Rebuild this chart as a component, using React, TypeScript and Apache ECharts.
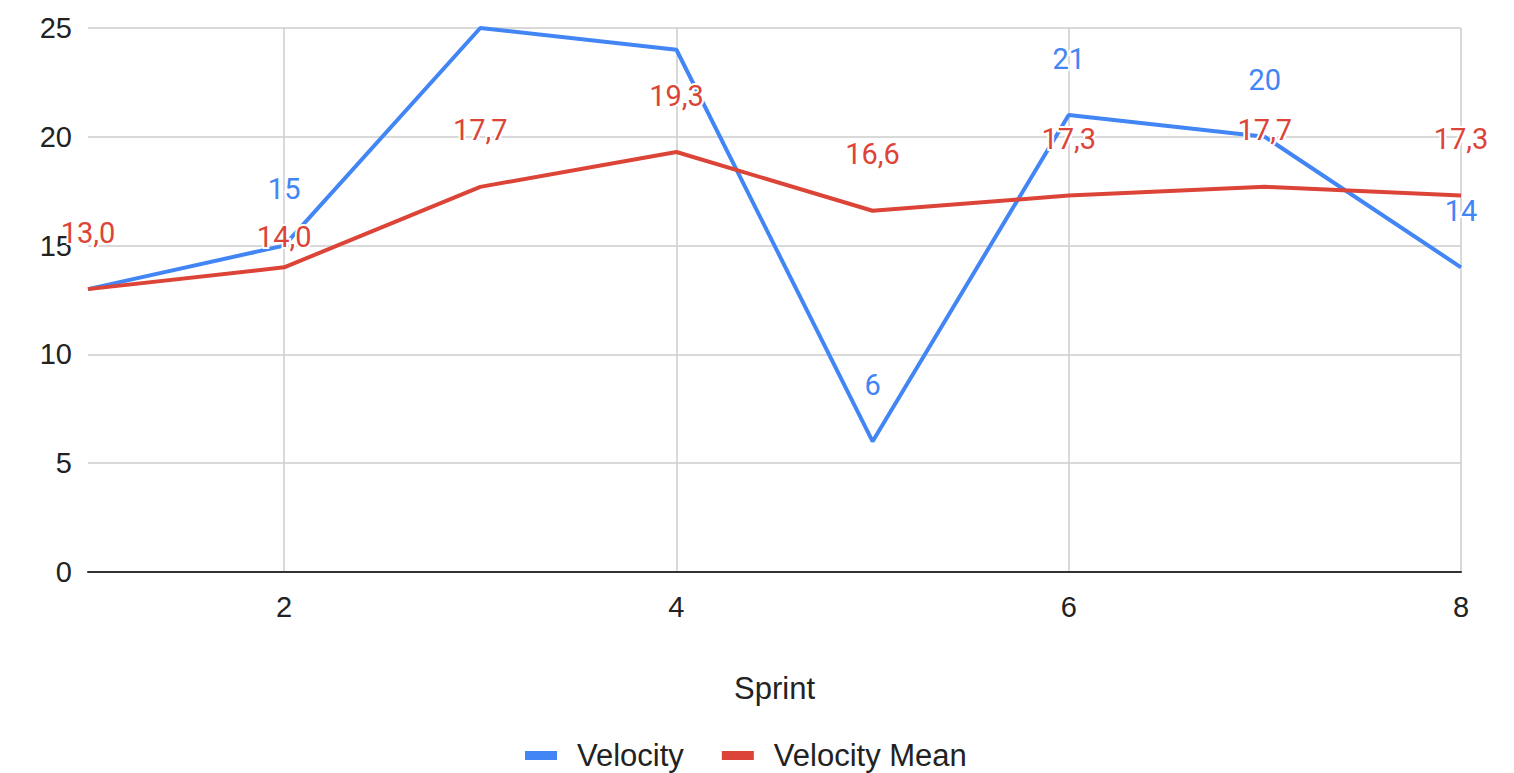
import React, { useEffect, useRef } from "react";
import * as echarts from "echarts";

const sprints = ["1", "2", "3", "4", "5", "6", "7", "8"];
const velocity = [13, 15, 25, 24, 6, 21, 20, 14];
const velocityMean = [13.0, 14.0, 17.7, 19.3, 16.6, 17.3, 17.7, 17.3];
const hiddenVelocityLabels = [0, 2, 3];
const yTicks = { min: 0, max: 25, interval: 5 };

const BLUE = "#4285F4";
const RED = "#DB4437";
const FONT = "Arial, Liberation Sans";

export default function App() {
  const ref = useRef<HTMLDivElement>(null);
  useEffect(() => {
    document.body.style.margin = "0";
    const chart = echarts.init(ref.current!, null, { renderer: "svg" });
    const labelBase = {
      show: true,
      position: "top",
      distance: 42,
      fontFamily: "Roboto",
      fontSize: 29,
      textBorderColor: "#fff",
      textBorderWidth: 4,
    };
    chart.setOption({
      animation: false,
      backgroundColor: "#fff",
      grid: { left: 88, right: 53, top: 28, bottom: 201 },
      legend: {
        top: 735,
        left: 520,
        icon: "rect",
        itemWidth: 32,
        itemHeight: 9,
        itemGap: 38,
        textStyle: { fontFamily: FONT, fontSize: 31, color: "#222", padding: [0, 0, 0, 15] },
        data: ["Velocity", "Velocity Mean"],
      },
      xAxis: {
        type: "category",
        data: sprints,
        boundaryGap: false,
        name: "Sprint",
        nameLocation: "middle",
        nameGap: 101,
        nameTextStyle: { fontFamily: FONT, fontSize: 31, color: "#222" },
        axisLine: { show: true, lineStyle: { color: "#333", width: 2 } },
        axisTick: { show: false },
        axisLabel: {
          interval: (i: number) => i % 2 === 1,
          margin: 20,
          fontFamily: FONT,
          fontSize: 29,
          color: "#222",
        },
        splitLine: {
          show: true,
          interval: (i: number) => i % 2 === 1,
          lineStyle: { color: "#ccc", width: 1.5 },
        },
      },
      yAxis: {
        type: "value",
        min: yTicks.min,
        max: yTicks.max,
        interval: yTicks.interval,
        axisLine: { show: false },
        axisTick: { show: false },
        axisLabel: { margin: 16, fontFamily: FONT, fontSize: 29, color: "#222" },
        splitLine: { lineStyle: { color: "#ccc", width: 1.5 } },
      },
      series: [
        {
          name: "Velocity",
          type: "line",
          symbol: "circle",
          symbolSize: 0.01,
          showSymbol: true,
          color: BLUE,
          lineStyle: { width: 4, color: BLUE },
          label: { ...labelBase, color: BLUE },
          data: velocity.map((v, i) =>
            hiddenVelocityLabels.includes(i) ? { value: v, label: { show: false } } : v
          ),
        },
        {
          name: "Velocity Mean",
          type: "line",
          symbol: "circle",
          symbolSize: 0.01,
          showSymbol: true,
          color: RED,
          lineStyle: { width: 4, color: RED },
          label: {
            ...labelBase,
            color: RED,
            formatter: (p: any) => Number(p.value).toFixed(1).replace(".", ","),
          },
          data: velocityMean.map((v, i) =>
            i === 1 ? { value: v, label: { distance: 16 } } : v
          ),
        },
      ],
    });
    return () => chart.dispose();
  }, []);
  return <div ref={ref} style={{ width: 1514, height: 773 }} />;
}
